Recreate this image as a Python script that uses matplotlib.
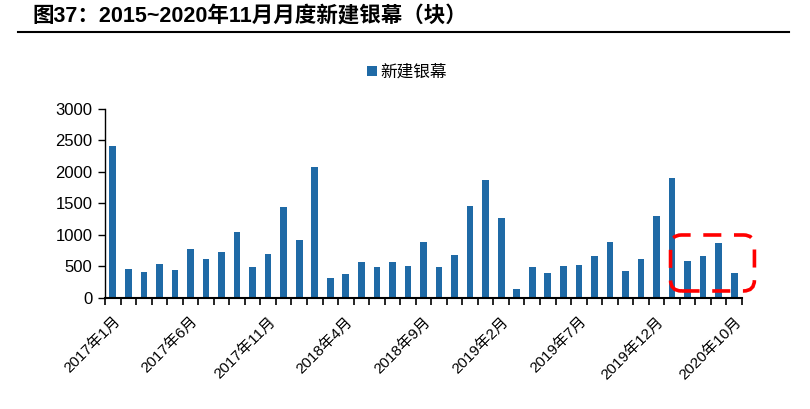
import matplotlib
matplotlib.use('Agg')
import matplotlib.pyplot as plt
from matplotlib.patches import FancyBboxPatch
from matplotlib.transforms import IdentityTransform
from matplotlib.lines import Line2D

plt.rcParams['font.family'] = ['Liberation Sans', 'Noto Sans CJK SC']

categories = [
    '2017年1月', '2017年2月', '2017年3月', '2017年4月', '2017年5月', '2017年6月',
    '2017年7月', '2017年8月', '2017年9月', '2017年10月', '2017年11月', '2017年12月',
    '2018年1月', '2018年2月', '2018年3月', '2018年4月', '2018年5月', '2018年6月',
    '2018年7月', '2018年8月', '2018年9月', '2018年10月', '2018年11月', '2018年12月',
    '2019年1月', '2019年2月', '2019年3月', '2019年4月', '2019年5月', '2019年6月',
    '2019年7月', '2019年8月', '2019年9月', '2019年10月', '2019年11月', '2019年12月',
    '2020年6月', '2020年7月', '2020年8月', '2020年9月', '2020年10月',
]
new_screens = [
    2417, 456, 408, 535, 445, 779, 615, 721, 1039, 493, 694, 1442,
    917, 2078, 307, 382, 572, 488, 572, 504, 885, 488, 678, 1452,
    1871, 1267, 133, 488, 387, 504, 519, 668, 890, 424, 620, 1299,
    1903, 588, 663, 864, 387,
]
series_name = '新建银幕'
title = '图37：2015~2020年11月月度新建银幕（块）'
yticks = [0, 500, 1000, 1500, 2000, 2500, 3000]
label_step = 5
highlight_x = (35.9, 41.3)
highlight_y = (107, 997)

W, H = 810, 409
fig = plt.figure(figsize=(W / 100, H / 100), dpi=100)
ax = fig.add_axes([105 / W, 1 - 297.7 / H, (742 - 105) / W, (297.7 - 109) / H])

x = list(range(len(new_screens)))
bars = ax.bar(x, new_screens, width=0.43, color='#1f6aa6', label=series_name, zorder=2)

ax.set_xlim(-0.5, len(new_screens) - 0.5)
ax.set_ylim(0, 3000)
ax.set_yticks(yticks)
ax.set_yticklabels([str(v) for v in yticks], fontsize=12)
ax.tick_params(axis='y', direction='out', length=5, width=1, pad=4, colors='black')

major = x[::label_step]
ax.set_xticks(major)
ax.set_xticklabels([categories[i] for i in major], rotation=45, ha='right',
                   rotation_mode='anchor', fontsize=11)
ax.tick_params(axis='x', which='major', length=0, pad=12)
ax.set_xticks([i - 0.5 for i in range(len(new_screens) + 1)], minor=True)
ax.tick_params(axis='x', which='minor', direction='out', length=5, width=1.2, colors='black')

for s in ['top', 'right']:
    ax.spines[s].set_visible(False)
ax.spines['left'].set_linewidth(1)
ax.spines['bottom'].set_linewidth(1.5)

# legend
ax.legend(handles=[bars], loc='center', bbox_to_anchor=(407 / W, 1 - 72 / H),
          bbox_transform=fig.transFigure, frameon=False, fontsize=12,
          handlelength=0.6, handleheight=0.6, handletextpad=0.2)

# title
fig.text(32 / W, 1 - 16 / H, title, fontsize=15.5, fontweight='bold', va='center', ha='left')
fig.add_artist(Line2D([18 / W, 789 / W], [1 - 32 / H, 1 - 32 / H],
                      transform=fig.transFigure, color='black', lw=1.5))

# highlight box
(x0, y0) = ax.transData.transform((highlight_x[0], highlight_y[0]))
(x1, y1) = ax.transData.transform((highlight_x[1], highlight_y[1]))
box = FancyBboxPatch((x0, y0), x1 - x0, y1 - y0,
                     boxstyle='round,pad=0,rounding_size=11',
                     transform=IdentityTransform(), fc='none', ec='#ff0000',
                     lw=2.6, linestyle=(0, (5, 3.5)), clip_on=False, zorder=5)
fig.add_artist(box)

fig.savefig('out.png', dpi=100)
